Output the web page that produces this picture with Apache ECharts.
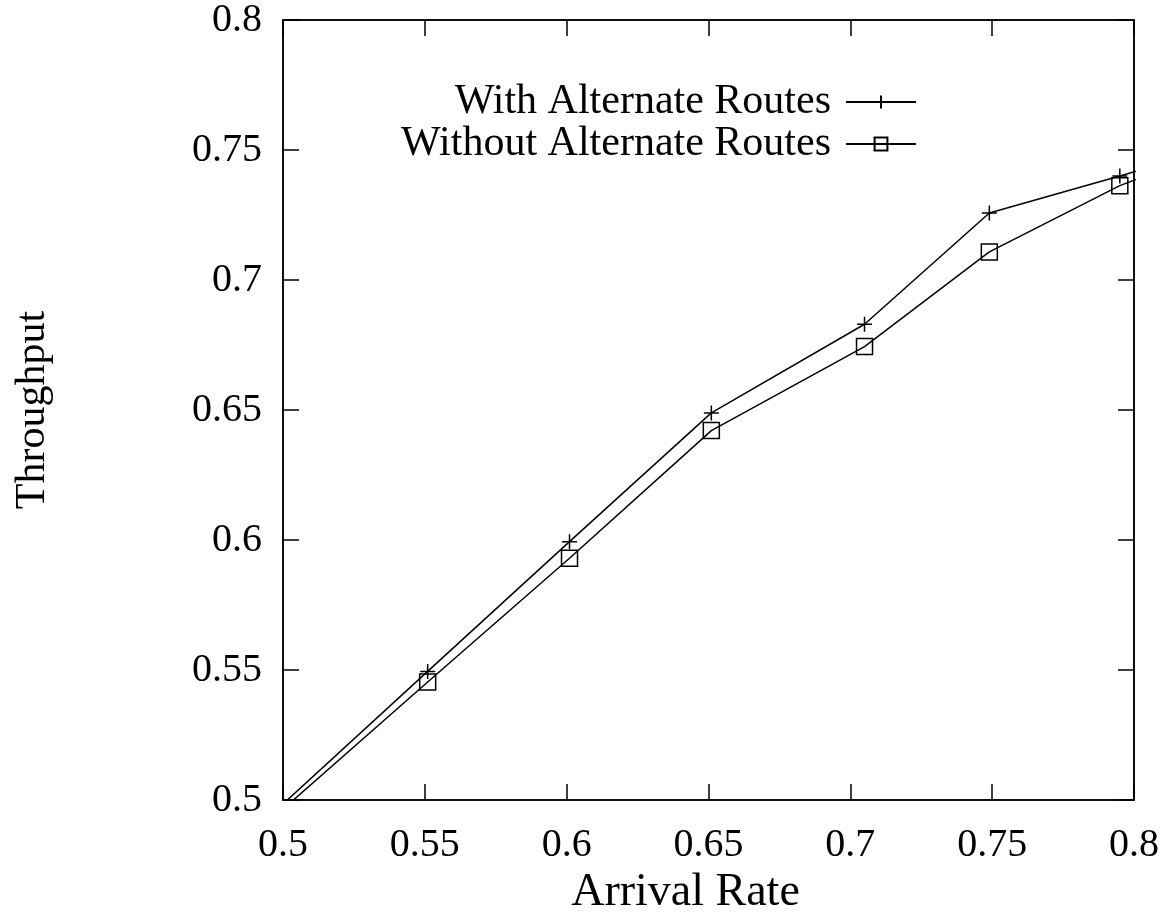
<!DOCTYPE html>
<html>
<head>
<meta charset="utf-8">
<script src="https://cdn.jsdelivr.net/npm/echarts@6/dist/echarts.min.js"></script>
<style>html,body{margin:0;padding:0;background:#fff}#c{width:1168px;height:921px}</style>
</head>
<body>
<div id="c"></div>
<script>
// Data
const arrivalRate = [0.5, 0.551, 0.601, 0.651, 0.705, 0.749, 0.795, 0.845];
const withAlternate = [0.4985, 0.5495, 0.5994, 0.6489, 0.683, 0.7258, 0.740, 0.756];
const withoutAlternate = [0.4965, 0.5454, 0.593, 0.6421, 0.6744, 0.7108, 0.7363, 0.757];
const seriesNames = ['With Alternate Routes', 'Without Alternate Routes'];

const FONT = 'Liberation Serif';
const xMin = 0.5, xMax = 0.8, yMin = 0.5, yMax = 0.8;

function pts(ys) {
  return arrivalRate.map((x, i) => {
    const inside = x >= xMin && x <= xMax && ys[i] >= yMin && ys[i] <= yMax;
    return inside ? [x, ys[i]] : { value: [x, ys[i]], symbol: 'none' };
  });
}
const fmt = v => String(Math.round(v * 100) / 100);

const plusPath = 'path://M0,50 L100,50 M50,0 L50,100';

const chart = echarts.init(document.getElementById('c'), null, { renderer: 'canvas' });
const tickCommon = { show: true, inside: true, length: 16, lineStyle: { color: '#000', width: 1.5 } };
chart.setOption({
  animation: false,
  backgroundColor: '#fff',
  grid: { left: 283, right: 34, top: 16, bottom: 106, show: true, borderColor: '#000', borderWidth: 1.5 },
  legend: {
    orient: 'vertical',
    right: 246,
    top: 76,
    align: 'right',
    itemWidth: 70,
    itemHeight: 16,
    itemGap: 0,
    textStyle: { fontFamily: FONT, fontSize: 42, color: '#000', padding: [0, 10, 0, 0] },
    data: seriesNames
  },
  xAxis: [{
    type: 'value', min: xMin, max: xMax, interval: 0.05,
    position: 'bottom',
    axisLine: { show: true, lineStyle: { color: '#000', width: 1.5 } },
    axisTick: tickCommon,
    splitLine: { show: false },
    axisLabel: { margin: 25, fontFamily: FONT, fontSize: 40, color: '#000', formatter: fmt, showMinLabel: true, showMaxLabel: true },
    name: 'Arrival Rate', nameLocation: 'middle', nameGap: 66,
    nameTextStyle: { fontFamily: FONT, fontSize: 46, color: '#000', padding: [0, 46, 0, 0] }
  }, {
    type: 'value', min: xMin, max: xMax, interval: 0.05,
    position: 'top',
    axisLine: { show: true, lineStyle: { color: '#000', width: 1.5 } },
    axisTick: tickCommon,
    axisLabel: { show: false },
    splitLine: { show: false }
  }],
  yAxis: [{
    type: 'value', min: yMin, max: yMax, interval: 0.05,
    position: 'left',
    axisLine: { show: true, lineStyle: { color: '#000', width: 1.5 } },
    axisTick: tickCommon,
    splitLine: { show: false },
    axisLabel: { margin: 21, fontFamily: FONT, fontSize: 40, color: '#000', formatter: fmt, showMinLabel: true, showMaxLabel: true },
    name: 'Throughput', nameLocation: 'middle', nameGap: 229, nameRotate: 90,
    nameTextStyle: { fontFamily: FONT, fontSize: 42, color: '#000' }
  }, {
    type: 'value', min: yMin, max: yMax, interval: 0.05,
    position: 'right',
    axisLine: { show: true, lineStyle: { color: '#000', width: 1.5 } },
    axisTick: tickCommon,
    axisLabel: { show: false },
    splitLine: { show: false }
  }],
  series: [{
    name: seriesNames[0],
    type: 'line',
    data: pts(withAlternate),
    clip: true,
    symbol: plusPath,
    symbolSize: 15,
    showAllSymbol: true,
    lineStyle: { color: '#000', width: 1.5 },
    itemStyle: { color: 'transparent', borderColor: '#000', borderWidth: 1.5 }
  }, {
    name: seriesNames[1],
    type: 'line',
    data: pts(withoutAlternate),
    clip: true,
    symbol: 'rect',
    symbolSize: 16,
    showAllSymbol: true,
    lineStyle: { color: '#000', width: 1.5 },
    itemStyle: { color: 'transparent', borderColor: '#000', borderWidth: 1.5 }
  }]
});
</script>
</body>
</html>
